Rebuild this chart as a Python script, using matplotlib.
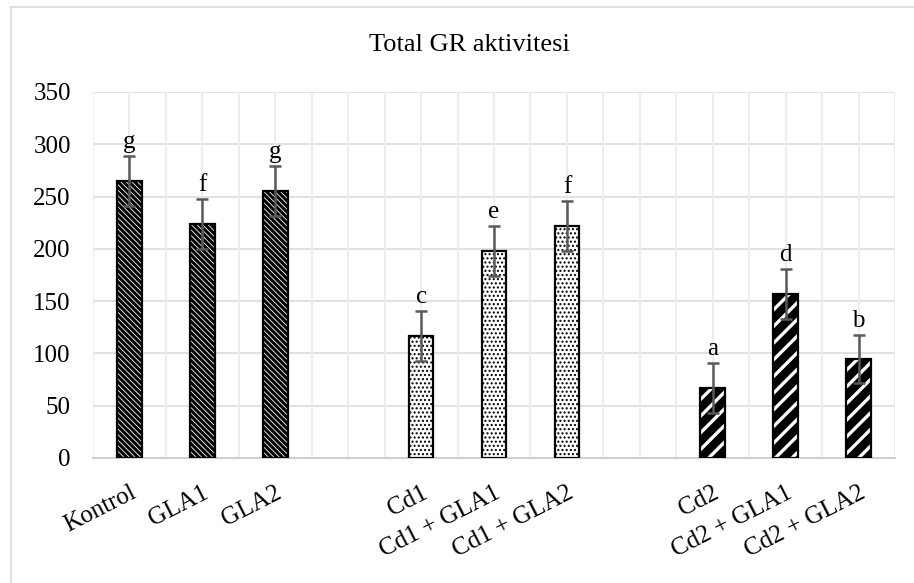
import numpy as np
import matplotlib.pyplot as plt
from matplotlib.lines import Line2D

plt.rcParams['font.family'] = ['Liberation Serif', 'DejaVu Serif']

categories = ['Kontrol', 'GLA1', 'GLA2', '',
              'Cd1', 'Cd1 + GLA1', 'Cd1 + GLA2', '',
              'Cd2', 'Cd2 + GLA1', 'Cd2 + GLA2']
values = [265, 224, 255, None, 117, 198, 222, None, 67, 157, 95]
errors = [24, 24, 24, None, 24, 24, 24, None, 24, 24, 23]
letters = ['g', 'f', 'g', '', 'c', 'e', 'f', '', 'a', 'd', 'b']
groups = [0, 0, 0, None, 1, 1, 1, None, 2, 2, 2]

# fill, hatch colour, hatch, hatch line width
styles = [('black', 'white', '\\\\\\\\\\\\', 0.6),
          ('white', 'black', '....', 1.0),
          ('black', 'white', '//', 2.4)]

fig = plt.figure(figsize=(9.14, 5.83), dpi=100)
ax = fig.add_axes([93/914, 1 - 458/583, (895-93)/914, (458-92)/583])

x = np.arange(len(categories))
w = 0.34
for i, (v, e, g) in enumerate(zip(values, errors, groups)):
    if v is None:
        continue
    fc, hc, hatch, hlw = styles[g]
    with plt.rc_context({'hatch.linewidth': hlw}):
        b = ax.bar(x[i], v, w, color=fc, edgecolor=hc, hatch=hatch, linewidth=0, zorder=3)
        for p in b:
            if hasattr(p, 'set_hatch_linewidth'):
                p.set_hatch_linewidth(hlw)
    ax.bar(x[i], v, w, facecolor='none', edgecolor='black', linewidth=1.6, zorder=4)
    ax.errorbar(x[i], v, yerr=e, color='#595959', elinewidth=1.8, capsize=4.5,
                capthick=1.8, zorder=5)
    ax.annotate(letters[i], (x[i], v + e), xytext=(0, 2), textcoords='offset points',
                ha='center', va='bottom', fontsize=18, zorder=6)

ax.set_xlim(-0.5, len(categories) - 0.5)
ax.set_ylim(0, 350)
ax.set_yticks(np.arange(0, 351, 50))
ax.set_xticks(x)
ax.set_xticklabels(categories, rotation=27, ha='right', rotation_mode='anchor', fontsize=18)
ax.tick_params(axis='x', length=0, pad=17)
ax.tick_params(axis='y', length=0, pad=16, labelsize=18)

for s in ['top', 'right', 'left']:
    ax.spines[s].set_visible(False)
ax.spines['bottom'].set_color('#d0d0d0')
ax.spines['bottom'].set_linewidth(1.5)

for yv in np.arange(50, 351, 50):
    ax.axhline(yv, color='#dedede', linewidth=1.3, zorder=1)
for xv in np.arange(-0.5, len(categories), 0.5):
    ax.axvline(xv, ymax=1, color='#ececec', linewidth=1.3, zorder=1)

fig.text(469 / 914, 1 - 45 / 583, 'Total GR aktivitesi', ha='center',
         va='center', fontsize=19)

# chart area border
fig.add_artist(Line2D([11/914, 11/914], [0, 1 - 7/583], color='#d9d9d9', linewidth=1.2))
fig.add_artist(Line2D([11/914, 1], [1 - 7/583, 1 - 7/583], color='#d9d9d9', linewidth=1.2))

fig.savefig('out.png', dpi=100)
